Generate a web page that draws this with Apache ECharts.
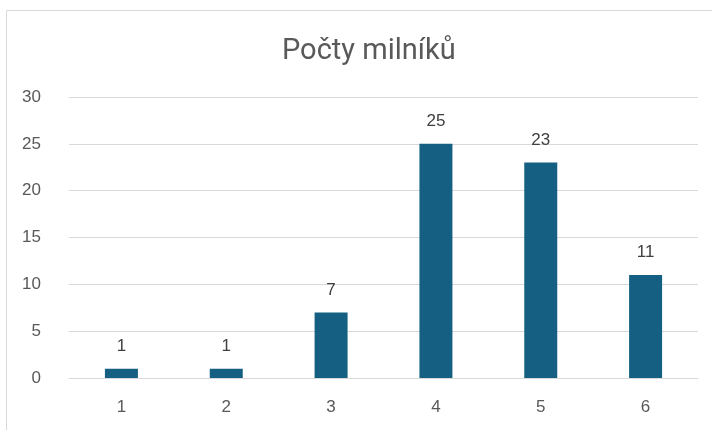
<!DOCTYPE html>
<html><head><meta charset="utf-8">
<script src="https://cdn.jsdelivr.net/npm/echarts@6/dist/echarts.min.js"></script>
<style>html,body{margin:0;padding:0;background:#fff}#c{width:712px;height:430px}</style>
</head><body><div id="c"></div>
<script>
const categories = ['1','2','3','4','5','6'];
const values = [1, 1, 7, 25, 23, 11];
const titleText = 'Počty milníků';

const chart = echarts.init(document.getElementById('c'), null, {renderer:'canvas'});
chart.setOption({
  animation: false,
  backgroundColor: '#fff',
  graphic: [{
    type: 'rect', shape: {x: 6.5, y: 10.5, width: 760, height: 500},
    style: {fill: 'none', stroke: '#d9d9d9', lineWidth: 1}, silent: true
  }],
  title: {
    text: titleText, left: 277, top: 32,
    textStyle: {fontFamily: 'Roboto, sans-serif', fontSize: 29, fontWeight: 'normal', color: '#595959'}
  },
  grid: {left: 69, right: 14, top: 97, bottom: 52, containLabel: false},
  xAxis: {
    type: 'category', data: categories,
    axisLine: {lineStyle: {color: '#d9d9d9', width: 1}},
    axisTick: {show: false},
    axisLabel: {color: '#595959', fontSize: 17, fontFamily: 'Liberation Sans, sans-serif', margin: 21}
  },
  yAxis: {
    type: 'value', min: 0, max: 30, interval: 5,
    axisLine: {show: false}, axisTick: {show: false},
    splitLine: {lineStyle: {color: '#d9d9d9', width: 1}},
    axisLabel: {color: '#595959', fontSize: 17, fontFamily: 'Liberation Sans, sans-serif', margin: 28}
  },
  series: [{
    type: 'bar', data: values, barWidth: 33,
    itemStyle: {color: '#156082'},
    label: {show: true, position: 'top', distance: 14, color: '#404040', fontSize: 17, fontFamily: 'Liberation Sans, sans-serif'}
  }]
});
</script></body></html>
